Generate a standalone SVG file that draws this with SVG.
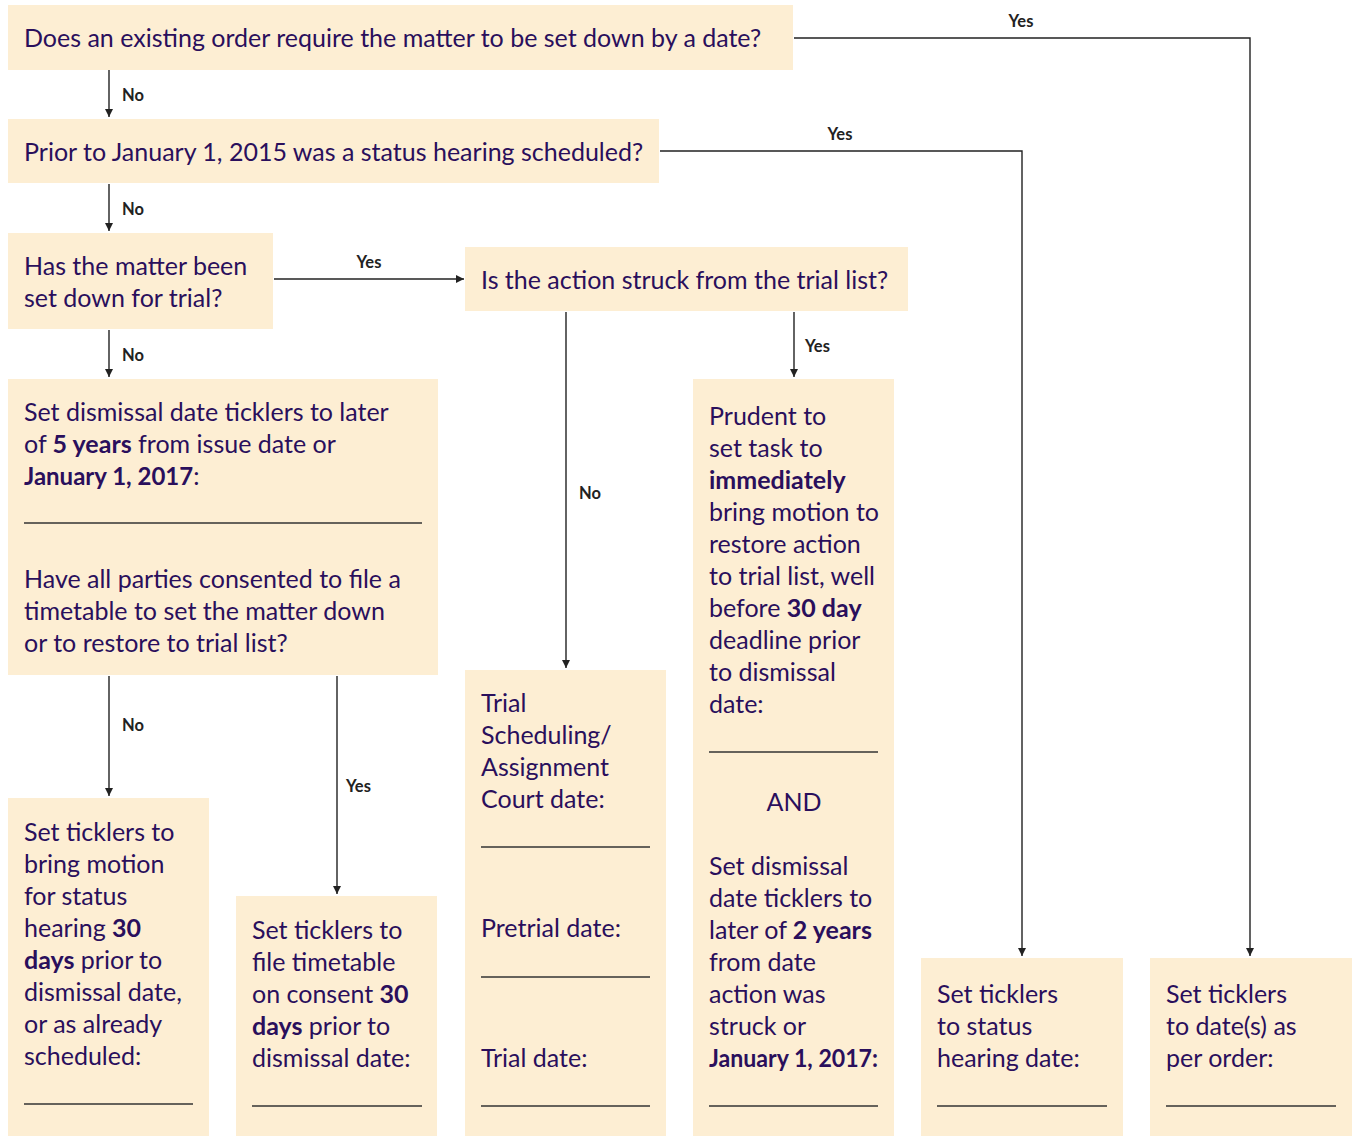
<svg xmlns="http://www.w3.org/2000/svg" width="1354" height="1136" viewBox="0 0 1354 1136">
<style>
.box{fill:#fdeed3}
.t{font-family:Lato,"Open Sans",sans-serif;font-size:25px;fill:#2a0f5c}
.b{font-weight:bold}
.j{font-size:24px}
.rule{stroke:#333;stroke-width:1.5}
.c{fill:none;stroke:#222;stroke-width:1.4}
.lbl{font-family:Lato,"Open Sans",sans-serif;font-size:16.5px;font-weight:bold;fill:#222}
</style>
<defs>
<marker id="ah" viewBox="0 0 10 10" refX="10" refY="5" markerWidth="8" markerHeight="8" markerUnits="userSpaceOnUse" orient="auto">
<path d="M0,0 L10,5 L0,10 z" fill="#222"/>
</marker>
</defs>
<rect width="1354" height="1136" fill="#fff"/>

<g id="connectors">
<path class="c" d="M109,70 V117" marker-end="url(#ah)"/>
<text class="lbl" x="122" y="101">No</text>
<path class="c" d="M109,184 V231" marker-end="url(#ah)"/>
<text class="lbl" x="122" y="215">No</text>
<path class="c" d="M109,330 V377" marker-end="url(#ah)"/>
<text class="lbl" x="122" y="361">No</text>
<path class="c" d="M274,279 H464" marker-end="url(#ah)"/>
<text class="lbl" x="369" y="268" text-anchor="middle">Yes</text>
<path class="c" d="M109,676 V796" marker-end="url(#ah)"/>
<text class="lbl" x="122" y="731">No</text>
<path class="c" d="M337,676 V894" marker-end="url(#ah)"/>
<text class="lbl" x="346" y="792">Yes</text>
<path class="c" d="M566,312 V668" marker-end="url(#ah)"/>
<text class="lbl" x="579" y="499">No</text>
<path class="c" d="M794,312 V377" marker-end="url(#ah)"/>
<text class="lbl" x="805" y="352">Yes</text>
<path class="c" d="M660,151 H1022 V956" marker-end="url(#ah)"/>
<text class="lbl" x="840" y="140" text-anchor="middle">Yes</text>
<path class="c" d="M794,38 H1250 V956" marker-end="url(#ah)"/>
<text class="lbl" x="1021" y="27" text-anchor="middle">Yes</text>
</g>

<g id="n1">
<rect class="box" x="8" y="5" width="785" height="65"/>
<text class="t" x="24" y="47">Does an existing order require the matter to be set down by a date?</text>
</g>
<g id="n2">
<rect class="box" x="8" y="119" width="651" height="64"/>
<text class="t" x="24" y="161">Prior to January 1, 2015 was a status hearing scheduled?</text>
</g>
<g id="n3">
<rect class="box" x="8" y="233" width="265" height="96"/>
<text class="t" x="24" y="275">Has the matter been</text>
<text class="t" x="24" y="307">set down for trial?</text>
</g>
<g id="n4">
<rect class="box" x="465" y="247" width="443" height="64"/>
<text class="t" x="481" y="289">Is the action struck from the trial list?</text>
</g>
<g id="n5">
<rect class="box" x="8" y="379" width="430" height="296"/>
<text class="t" x="24" y="421">Set dismissal date ticklers to later</text>
<text class="t" x="24" y="453">of <tspan class="b">5 years</tspan> from issue date or</text>
<text class="t" x="24" y="485"><tspan class="b j">January 1, 2017</tspan>:</text>
<line class="rule" x1="24" y1="523" x2="422" y2="523"/>
<text class="t" x="24" y="588">Have all parties consented to file a</text>
<text class="t" x="24" y="620">timetable to set the matter down</text>
<text class="t" x="24" y="652">or to restore to trial list?</text>
</g>
<g id="n6">
<rect class="box" x="8" y="798" width="201" height="338"/>
<text class="t" x="24" y="841">Set ticklers to</text>
<text class="t" x="24" y="873">bring motion</text>
<text class="t" x="24" y="905">for status</text>
<text class="t" x="24" y="937">hearing <tspan class="b">30</tspan></text>
<text class="t" x="24" y="969"><tspan class="b">days</tspan> prior to</text>
<text class="t" x="24" y="1001">dismissal date,</text>
<text class="t" x="24" y="1033">or as already</text>
<text class="t" x="24" y="1065">scheduled:</text>
<line class="rule" x1="24" y1="1104" x2="193" y2="1104"/>
</g>
<g id="n7">
<rect class="box" x="236" y="896" width="201" height="240"/>
<text class="t" x="252" y="939">Set ticklers to</text>
<text class="t" x="252" y="971">file timetable</text>
<text class="t" x="252" y="1003">on consent <tspan class="b">30</tspan></text>
<text class="t" x="252" y="1035"><tspan class="b">days</tspan> prior to</text>
<text class="t" x="252" y="1067">dismissal date:</text>
<line class="rule" x1="252" y1="1106" x2="422" y2="1106"/>
</g>
<g id="n8">
<rect class="box" x="465" y="670" width="201" height="466"/>
<text class="t" x="481" y="712">Trial</text>
<text class="t" x="481" y="744">Scheduling/</text>
<text class="t" x="481" y="776">Assignment</text>
<text class="t" x="481" y="808">Court date:</text>
<line class="rule" x1="481" y1="847" x2="650" y2="847"/>
<text class="t" x="481" y="937">Pretrial date:</text>
<line class="rule" x1="481" y1="977" x2="650" y2="977"/>
<text class="t" x="481" y="1067">Trial date:</text>
<line class="rule" x1="481" y1="1106" x2="650" y2="1106"/>
</g>
<g id="n9">
<rect class="box" x="693" y="379" width="201" height="757"/>
<text class="t" x="709" y="425">Prudent to</text>
<text class="t" x="709" y="457">set task to</text>
<text class="t b" x="709" y="489">immediately</text>
<text class="t" x="709" y="521">bring motion to</text>
<text class="t" x="709" y="553">restore action</text>
<text class="t" x="709" y="585">to trial list, well</text>
<text class="t" x="709" y="617">before <tspan class="b">30 day</tspan></text>
<text class="t" x="709" y="649">deadline prior</text>
<text class="t" x="709" y="681">to dismissal</text>
<text class="t" x="709" y="713">date:</text>
<line class="rule" x1="709" y1="752" x2="878" y2="752"/>
<text class="t" x="794" y="811" text-anchor="middle">AND</text>
<text class="t" x="709" y="875">Set dismissal</text>
<text class="t" x="709" y="907">date ticklers to</text>
<text class="t" x="709" y="939">later of <tspan class="b">2 years</tspan></text>
<text class="t" x="709" y="971">from date</text>
<text class="t" x="709" y="1003">action was</text>
<text class="t" x="709" y="1035">struck or</text>
<text class="t b j" x="709" y="1067" textLength="169" lengthAdjust="spacingAndGlyphs">January 1, 2017:</text>
<line class="rule" x1="709" y1="1106" x2="878" y2="1106"/>
</g>
<g id="n10">
<rect class="box" x="921" y="958" width="202" height="178"/>
<text class="t" x="937" y="1003">Set ticklers</text>
<text class="t" x="937" y="1035">to status</text>
<text class="t" x="937" y="1067">hearing date:</text>
<line class="rule" x1="937" y1="1106" x2="1107" y2="1106"/>
</g>
<g id="n11">
<rect class="box" x="1150" y="958" width="202" height="178"/>
<text class="t" x="1166" y="1003">Set ticklers</text>
<text class="t" x="1166" y="1035">to date(s) as</text>
<text class="t" x="1166" y="1067">per order:</text>
<line class="rule" x1="1166" y1="1106" x2="1336" y2="1106"/>
</g>
</svg>
